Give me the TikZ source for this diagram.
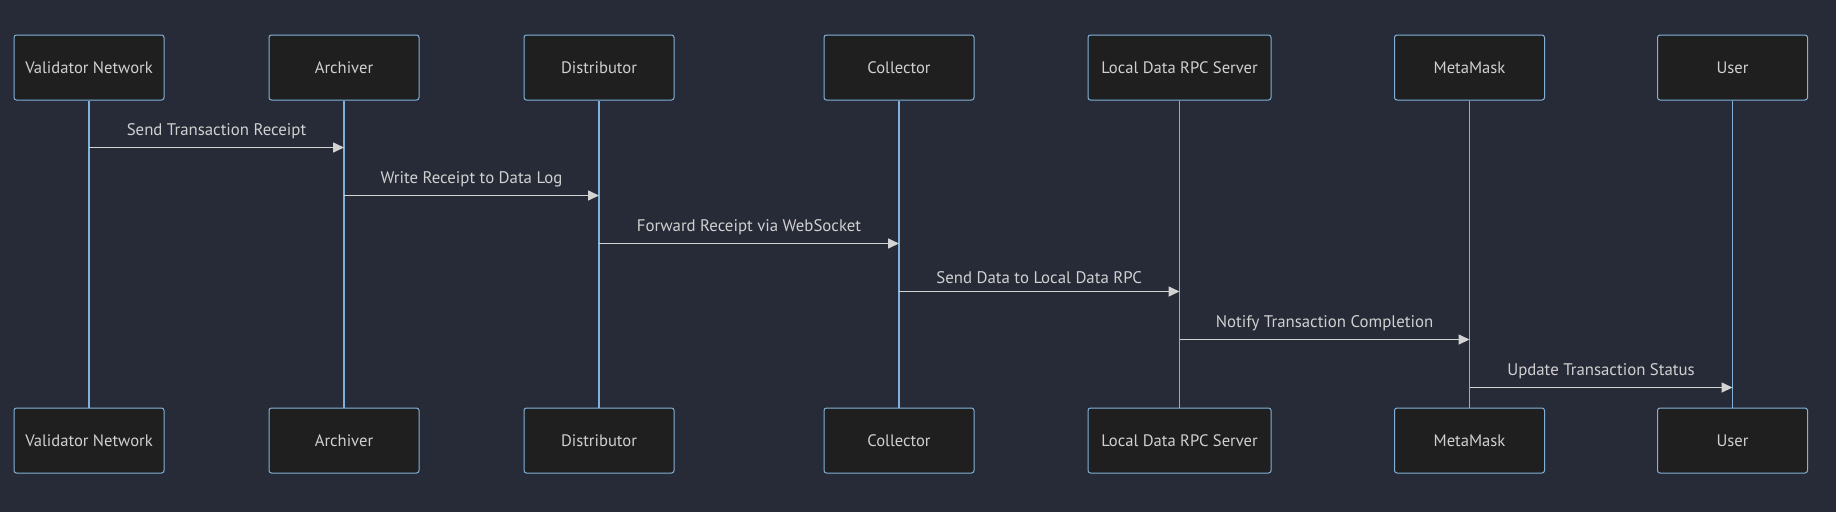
\documentclass[tikz,border=0pt]{standalone}
\usepackage{fontspec}
\setmainfont{PT Sans}
\usetikzlibrary{arrows.meta}
\definecolor{bg}{HTML}{272B37}
\definecolor{boxfill}{HTML}{1F1F1F}
\definecolor{boxline}{HTML}{81B1DB}
\definecolor{msg}{HTML}{D3D3D3}
\definecolor{txt}{HTML}{D0D0D0}
\begin{document}
\begin{tikzpicture}[x=1pt,y=-1pt,
  actor/.style={draw=boxline,fill=boxfill,line width=1pt,rounded corners=2.5pt,minimum height=65pt,minimum width=150pt,text=txt,font=\fontsize{16.6}{19}\selectfont,inner sep=0pt},
  life/.style={draw=boxline,line width=1.6pt},
  msgline/.style={draw=msg,line width=1.6pt,-{Triangle[length=11pt,width=10pt]}},
  msglabel/.style={text=txt,font=\fontsize{16.8}{19}\selectfont,inner sep=0pt}]
\fill[bg] (0,0) rectangle (1836,512);
\useasboundingbox (0,0) rectangle (1836,512);
\foreach \n/\x/\w/\t in {vn/89/150/Validator Network, ar/344/150/Archiver, di/599/150/Distributor, co/899/150/Collector, lr/1179.5/183/Local Data RPC Server, mm/1469.5/150/MetaMask, us/1732.5/150/User}{
  \node[actor,minimum width=\w pt] (\n t) at (\x,67.5) {\raisebox{-1.2pt}{\t}};
  \node[actor,minimum width=\w pt] (\n b) at (\x,440.5) {\raisebox{-1.2pt}{\t}};
  \draw[life] (\n t.south) -- (\n b.north);
}
\coordinate (a1s) at (vnt.south |- 0,147.5); \coordinate (a1e) at (art.south |- 0,147.5);
\coordinate (a2s) at (art.south |- 0,195.5); \coordinate (a2e) at (dit.south |- 0,195.5);
\coordinate (a3s) at (dit.south |- 0,243.5); \coordinate (a3e) at (cot.south |- 0,243.5);
\coordinate (a4s) at (cot.south |- 0,291.5); \coordinate (a4e) at (lrt.south |- 0,291.5);
\coordinate (a5s) at (lrt.south |- 0,339.5); \coordinate (a5e) at (mmt.south |- 0,339.5);
\coordinate (a6s) at (mmt.south |- 0,387.5); \coordinate (a6e) at (ust.south |- 0,387.5);
\foreach \i/\l in {1/Send Transaction Receipt, 2/Write Receipt to Data Log, 3/Forward Receipt via WebSocket, 4/Send Data to Local Data RPC, 5/Notify Transaction Completion, 6/Update Transaction Status}{
  \draw[msgline] (a\i s) -- (a\i e);
  \path (a\i s) -- (a\i e) node[midway,above=8pt,msglabel] {\l};
}
\end{tikzpicture}
\end{document}
